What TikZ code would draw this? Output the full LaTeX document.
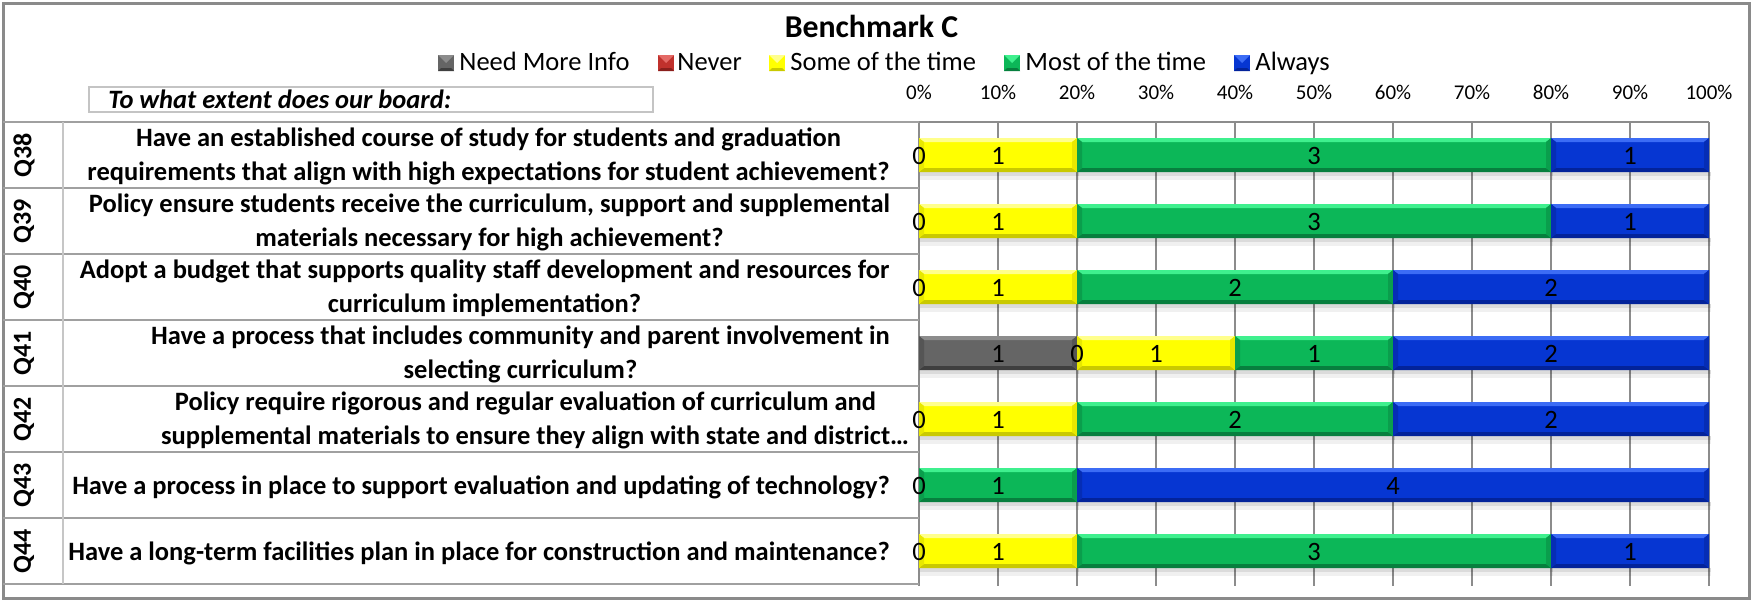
\documentclass[tikz,border=0pt]{standalone}
\usepackage{fontspec}
\setmainfont{Carlito}
\definecolor{ylw}{HTML}{FFFF00}\definecolor{ylwhi}{HTML}{FFFF8C}\definecolor{ylwlo}{HTML}{C9C900}\definecolor{ylwbv}{HTML}{E8E800}
\definecolor{grn}{HTML}{0CB758}\definecolor{grnhi}{HTML}{3FF08E}\definecolor{grnlo}{HTML}{077F3E}\definecolor{grnbv}{HTML}{0A9E4C}
\definecolor{blu}{HTML}{0636D2}\definecolor{bluhi}{HTML}{3C6CF5}\definecolor{blulo}{HTML}{03239A}\definecolor{blubv}{HTML}{052DB5}
\definecolor{gry}{HTML}{656565}\definecolor{gryhi}{HTML}{8C8C8C}\definecolor{grylo}{HTML}{3F3F3F}\definecolor{grybv}{HTML}{555555}
\definecolor{red}{HTML}{C0312C}\definecolor{redhi}{HTML}{E46A66}\definecolor{redlo}{HTML}{8A1F1C}\definecolor{redbv}{HTML}{A82A26}
\definecolor{gridgray}{HTML}{8C8C8C}
\definecolor{tablegray}{HTML}{A0A0A0}
\definecolor{framegray}{HTML}{8A8A8A}
\definecolor{boxgray}{HTML}{C4C4C4}
\tikzset{
  lbl/.style={font=\fontsize{13.25}{16}\selectfont, inner sep=0pt, anchor=base},
  legtxt/.style={font=\fontsize{13.25}{16}\selectfont, inner sep=0pt, anchor=base west},
  rowtxt/.style={font=\fontsize{13.25}{16}\selectfont\bfseries, inner sep=0pt, anchor=base},
  qlbl/.style={font=\fontsize{13}{16}\selectfont\bfseries, inner sep=0pt, rotate=90},
  axlbl/.style={font=\fontsize{10.5}{12}\selectfont, inner sep=0pt, anchor=base},
  gridline/.style={draw=gridgray, line width=0.75pt},
  tableline/.style={draw=tablegray, line width=1pt},
}
% #1 node name, #2 y centre, #3 k0, #4 k1, #5 colour prefix, #6 label
\newcommand\barseg[6]{%
  \fill[black,opacity=0.14] ({919+158*#3+1},{#2+17}) rectangle ({919+158*#4+2},{#2+21});
  \fill[black,opacity=0.06] ({919+158*#3+1},{#2+21}) rectangle ({919+158*#4+2},{#2+25});
  \fill[#5] ({919+158*#3},{#2-17}) rectangle ({919+158*#4},{#2+17});
  \fill[#5hi] ({919+158*#3},{#2-17}) -- ({919+158*#4},{#2-17}) -- ({919+158*#4-5},{#2-13}) -- ({919+158*#3+5},{#2-13}) -- cycle;
  \fill[#5lo] ({919+158*#3},{#2+17}) -- ({919+158*#4},{#2+17}) -- ({919+158*#4-5},{#2+13}) -- ({919+158*#3+5},{#2+13}) -- cycle;
  \fill[#5bv] ({919+158*#3},{#2-17}) -- ({919+158*#3+5},{#2-13}) -- ({919+158*#3+5},{#2+13}) -- ({919+158*#3},{#2+17}) -- cycle;
  \fill[#5bv] ({919+158*#4},{#2-17}) -- ({919+158*#4-5},{#2-13}) -- ({919+158*#4-5},{#2+13}) -- ({919+158*#4},{#2+17}) -- cycle;
  \node[lbl] (#1) at ({919+79*(#3+#4)},{#2+9}) {#6};
}
% #1 x, #2 colour prefix
\newcommand\legsq[2]{%
  \fill[#2] (#1,55) rectangle ({#1+16},71);
  \fill[#2hi] (#1,55) -- ({#1+16},55) -- ({#1+8},63) -- cycle;
  \fill[#2lo] (#1,71) -- ({#1+16},71) -- ({#1+13},68) -- ({#1+3},68) -- cycle;
}
\begin{document}
\begin{tikzpicture}[x=0.5pt,y=-0.5pt]
\useasboundingbox (0,0) rectangle (1752,600);
\fill[white] (0,0) rectangle (1752,600);
% outer frame
\draw[framegray, line width=1.5pt] (3,3) rectangle (1749,598);
% title
\node[font=\fontsize{15.9}{18}\selectfont\bfseries, inner sep=0pt, anchor=base] (title) at (871.5,37) {Benchmark C};
% legend
\legsq{438}{gry}\node[legtxt] (lg1) at (459,70) {Need More Info};
\legsq{658}{red}\node[legtxt] (lg2) at (677,70) {Never};
\legsq{769}{ylw}\node[legtxt] (lg3) at (790,70) {Some of the time};
\legsq{1004}{grn}\node[legtxt] (lg4) at (1025,70) {Most of the time};
\legsq{1234}{blu}\node[legtxt] (lg5) at (1255,70) {Always};
% header box
\draw[boxgray, line width=0.9pt] (89,87) rectangle (653,112);
\node[font=\fontsize{13.25}{16}\selectfont\bfseries\itshape, inner sep=0pt, anchor=base west] (hdr) at (108,108) {To what extent does our board:};
% axis labels
\foreach \p/\t in {0/0,1/10,2/20,3/30,4/40,5/50,6/60,7/70,8/80,9/90,10/100}
  \node[axlbl] (ax\p) at ({919+79*\p},99) {\t\%};
% grid
\foreach \p in {0,...,10}
  \draw[gridline] ({919+79*\p},122) -- ({919+79*\p},586);
\draw[gridline] (919,122) -- (1709,122);
% table
\draw[tableline] (3,122) -- (919,122);
\foreach \yy in {188,254,320,386,452,518,584}
  \draw[tableline] (3,\yy) -- (919,\yy);
\draw[draw=tablegray!60, line width=1pt] (63,122) -- (63,584);
% Q labels
\foreach \q/\c in {38/155,39/221,40/287,41/353,42/419,43/485,44/551}
  \node[qlbl] (q\q) at (24,\c) {Q\q};
% row texts
\node[rowtxt] (t38a) at (488.5,146) {Have an established course of study for students and graduation};
\node[rowtxt] (t38b) at (488.5,180) {requirements that align with high expectations for student achievement?};
\node[rowtxt] (t39a) at (489.5,212) {Policy ensure students receive the curriculum, support and supplemental};
\node[rowtxt] (t39b) at (489.5,246) {materials necessary for high achievement?};
\node[rowtxt] (t40a) at (484.5,278) {Adopt a budget that supports quality staff development and resources for};
\node[rowtxt] (t40b) at (484.5,312) {curriculum implementation?};
\node[rowtxt] (t41a) at (520.5,344) {Have a process that includes community and parent involvement in};
\node[rowtxt] (t41b) at (520.5,378) {selecting curriculum?};
\node[rowtxt] (t42a) at (525.5,410) {Policy require rigorous and regular evaluation of curriculum and};
\node[rowtxt] (t42b) at (535,444) {supplemental materials to ensure they align with state and district…};
\node[rowtxt] (t43) at (481,494.5) {Have a process in place to support evaluation and updating of technology?};
\node[rowtxt] (t44) at (479,560.5) {Have a long-term facilities plan in place for construction and maintenance?};
% bars
% Q38
\barseg{b38y}{155}{0}{1}{ylw}{1}\barseg{b38g}{155}{1}{4}{grn}{3}\barseg{b38b}{155}{4}{5}{blu}{1}
\node[lbl] (b38z) at (919,164) {0};
% Q39
\barseg{b39y}{221}{0}{1}{ylw}{1}\barseg{b39g}{221}{1}{4}{grn}{3}\barseg{b39b}{221}{4}{5}{blu}{1}
\node[lbl] (b39z) at (919,230) {0};
% Q40
\barseg{b40y}{287}{0}{1}{ylw}{1}\barseg{b40g}{287}{1}{3}{grn}{2}\barseg{b40b}{287}{3}{5}{blu}{2}
\node[lbl] (b40z) at (919,296) {0};
% Q41
\barseg{b41n}{353}{0}{1}{gry}{1}\barseg{b41y}{353}{1}{2}{ylw}{1}\barseg{b41g}{353}{2}{3}{grn}{1}\barseg{b41b}{353}{3}{5}{blu}{2}
\node[lbl] (b41z) at (1077,362) {0};
% Q42
\barseg{b42y}{419}{0}{1}{ylw}{1}\barseg{b42g}{419}{1}{3}{grn}{2}\barseg{b42b}{419}{3}{5}{blu}{2}
\node[lbl] (b42z) at (919,428) {0};
% Q43
\barseg{b43g}{485}{0}{1}{grn}{1}\barseg{b43b}{485}{1}{5}{blu}{4}
\node[lbl] (b43z) at (919,494) {0};
% Q44
\barseg{b44y}{551}{0}{1}{ylw}{1}\barseg{b44g}{551}{1}{4}{grn}{3}\barseg{b44b}{551}{4}{5}{blu}{1}
\node[lbl] (b44z) at (919,560) {0};
\end{tikzpicture}
\end{document}
